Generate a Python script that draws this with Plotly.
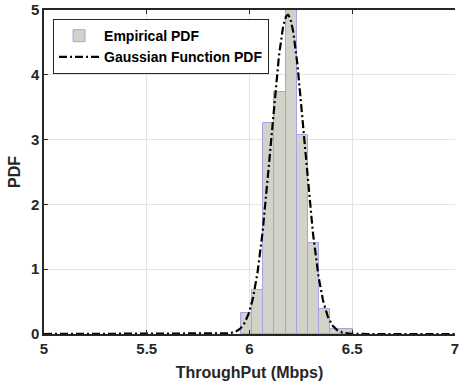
import numpy as np
import plotly.graph_objects as go

# Histogram (empirical PDF)
bin_edges = [5.958, 6.0125, 6.067, 6.1215, 6.176, 6.2305, 6.285, 6.3395, 6.394, 6.4485, 6.503]
pdf_heights = [0.32, 0.68, 3.25, 3.73, 5.25, 3.07, 1.41, 0.38, 0.07, 0.07]

# Gaussian fit parameters
mu = 6.186
sigma = 0.081

x_ticks = [5, 5.5, 6, 6.5, 7]
x_tick_labels = ["5", "5.5", "6", "6.5", "7"]
y_ticks = [0, 1, 2, 3, 4, 5]

centers = [(a + b) / 2 for a, b in zip(bin_edges[:-1], bin_edges[1:])]
widths = [b - a for a, b in zip(bin_edges[:-1], bin_edges[1:])]

xg = np.linspace(5, 7, 801)
yg = np.exp(-(xg - mu) ** 2 / (2 * sigma ** 2)) / (sigma * np.sqrt(2 * np.pi))

font_family = "Liberation Sans, Arial, sans-serif"
dark = "#262626"

fig = go.Figure()
fig.add_trace(go.Bar(
    x=centers, y=pdf_heights, width=widths,
    marker=dict(color="rgb(210,210,201)", line=dict(color="rgb(165,165,225)", width=1)),
    name="<b>Empirical PDF</b>",
))
fig.add_trace(go.Scatter(
    x=xg, y=yg, mode="lines",
    line=dict(color="black", width=2.2, dash="8px,3px,2px,3px"),
    name="<b>Gaussian Function PDF</b>",
))

fig.update_layout(
    width=459, height=386,
    margin=dict(l=44, r=0, t=10, b=52),
    paper_bgcolor="white", plot_bgcolor="white",
    font=dict(family=font_family, color=dark, size=14),
    bargap=0,
    showlegend=True,
    legend=dict(
        x=0.022, y=0.972, xanchor="left", yanchor="top",
        bgcolor="white", bordercolor=dark, borderwidth=1,
        font=dict(size=14, color="black"),
        itemwidth=40, tracegroupgap=0,
    ),
    xaxis=dict(
        range=[5, 7], tickvals=x_ticks, ticktext=["<b>%s</b>" % t for t in x_tick_labels],
        showgrid=True, gridcolor="#e3e3e3", gridwidth=1,
        showline=True, linecolor=dark, linewidth=1.5, mirror="ticks",
        ticks="inside", ticklen=4, tickcolor=dark,
        tickfont=dict(size=15), zeroline=False, ticklabeloverflow="allow",
        title=dict(text="<b>ThroughPut (Mbps)</b>", font=dict(size=16), standoff=11),
    ),
    yaxis=dict(
        range=[0, 5], tickvals=y_ticks, ticktext=["<b>%d</b>" % t for t in y_ticks],
        showgrid=True, gridcolor="#e3e3e3", gridwidth=1,
        showline=True, linecolor=dark, linewidth=1.5, mirror=False,
        ticks="inside", ticklen=4, tickcolor=dark,
        tickfont=dict(size=15), zeroline=False,
        title=dict(text="<b>PDF</b>", font=dict(size=16), standoff=6),
    ),
)

fig.write_html("out.html")
